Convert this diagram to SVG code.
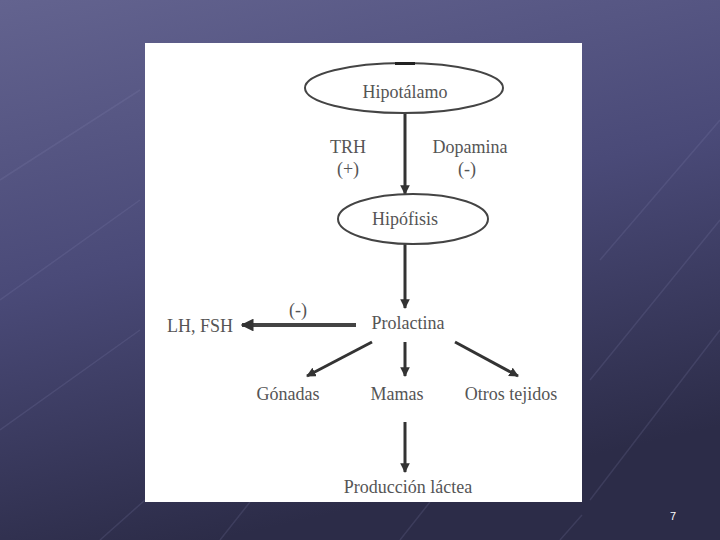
<svg xmlns="http://www.w3.org/2000/svg" width="720" height="540" viewBox="0 0 720 540">
<defs>
<linearGradient id="bg" x1="0" y1="0" x2="0.3" y2="1">
<stop offset="0" stop-color="#63638f"/>
<stop offset="0.5" stop-color="#4a4a78"/>
<stop offset="1" stop-color="#2c2c48"/>
</linearGradient>
<marker id="ah" viewBox="0 0 10 10" refX="9" refY="5" markerWidth="3.2" markerHeight="3.2" orient="auto" markerUnits="strokeWidth">
<path d="M0,0 L10,5 L0,10 z" fill="#333"/>
</marker>
<style>
.n{fill:#fff;stroke:#444;stroke-width:2}
.c{stroke:#333;stroke-width:3;fill:none;marker-end:url(#ah)}
.bgl{stroke:#8a8ab8;stroke-opacity:0.18;stroke-width:1.5;fill:none}
</style>
</defs>
<rect width="720" height="540" fill="url(#bg)"/>
<g class="bgl">
<path d="M0,430 L140,330 M0,300 L140,200 M0,180 L140,90"/>
<path d="M590,380 L720,220 M590,500 L720,330 M600,260 L720,120"/>
<path d="M100,540 L145,500 M220,540 L250,502 M400,540 L430,502 M560,540 L582,515"/>
</g>
<rect x="145" y="43" width="437" height="459" fill="#fff"/>
<g id="connectors">
<line class="c" x1="405" y1="113" x2="405" y2="194"/>
<line class="c" x1="405" y1="244" x2="405" y2="308"/>
<line class="c" x1="356" y1="325" x2="242" y2="325" style="stroke-width:4;stroke:#444"/>
<line class="c" x1="372" y1="342" x2="307" y2="376"/>
<line class="c" x1="405" y1="342" x2="405" y2="376"/>
<line class="c" x1="455" y1="342" x2="518" y2="376"/>
<line class="c" x1="405" y1="422" x2="405" y2="472"/>
</g>
<g id="hipotalamo">
<ellipse class="n" cx="404" cy="88" rx="99" ry="25"/>
<rect x="395" y="62" width="20" height="3" fill="#222"/>
<text x="405" y="98" font-family="Liberation Serif" font-size="18" fill="#555" text-anchor="middle">Hipotálamo</text>
</g>
<g id="labels-trh">
<text x="348" y="153" font-family="Liberation Serif" font-size="18" fill="#555" text-anchor="middle">TRH</text>
<text x="348" y="175" font-family="Liberation Serif" font-size="18" fill="#555" text-anchor="middle">(+)</text>
</g>
<g id="labels-dopamina">
<text x="470" y="153" font-family="Liberation Serif" font-size="18" fill="#555" text-anchor="middle">Dopamina</text>
<text x="467" y="175" font-family="Liberation Serif" font-size="18" fill="#555" text-anchor="middle">(-)</text>
</g>
<g id="hipofisis">
<ellipse class="n" cx="413" cy="219" rx="75" ry="25"/>
<text x="405" y="225" font-family="Liberation Serif" font-size="18" fill="#555" text-anchor="middle">Hipófisis</text>
</g>
<g id="prolactina"><text x="408" y="329" font-family="Liberation Serif" font-size="18" fill="#555" text-anchor="middle">Prolactina</text></g>
<g id="lhfsh"><text x="200" y="332" font-family="Liberation Serif" font-size="18" fill="#555" text-anchor="middle">LH, FSH</text></g>
<g id="label-neg"><text x="298" y="316" font-family="Liberation Serif" font-size="18" fill="#555" text-anchor="middle">(-)</text></g>
<g id="gonadas"><text x="288" y="400" font-family="Liberation Serif" font-size="18" fill="#555" text-anchor="middle">Gónadas</text></g>
<g id="mamas"><text x="397" y="400" font-family="Liberation Serif" font-size="18" fill="#555" text-anchor="middle">Mamas</text></g>
<g id="otros"><text x="511" y="400" font-family="Liberation Serif" font-size="18" fill="#555" text-anchor="middle">Otros tejidos</text></g>
<g id="produccion"><text x="408" y="493" font-family="Liberation Serif" font-size="18" fill="#555" text-anchor="middle">Producción láctea</text></g>
<text x="673" y="520" font-family="Liberation Sans" font-size="11" fill="#fff" text-anchor="middle">7</text>
</svg>
